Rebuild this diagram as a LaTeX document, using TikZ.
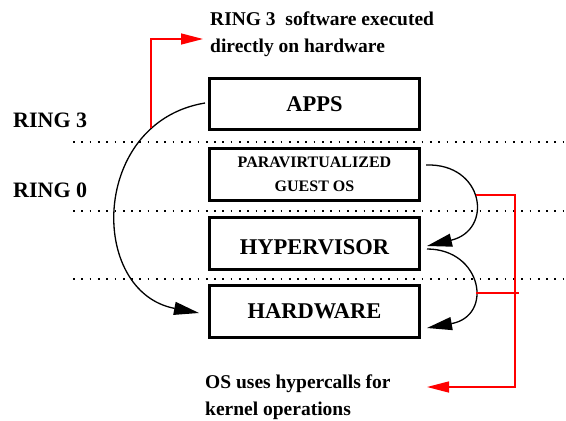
\documentclass[tikz,border=0pt]{standalone}
\usepackage{fontspec}
\setmainfont{Liberation Serif}
\usetikzlibrary{arrows.meta}
\begin{document}
\begin{tikzpicture}[x=1pt,y=-1pt,
  layer/.style={draw, line width=3pt, minimum width=210pt, inner sep=0pt},
  bigtext/.style={font=\bfseries\fontsize{22.5}{26}\selectfont},
  ringlabel/.style={anchor=base west, inner sep=0pt, font=\bfseries\fontsize{22}{26}\selectfont},
  notetext/.style={anchor=base west, inner sep=0pt, align=left, font=\bfseries\fontsize{19.5}{27}\selectfont},
  ringline/.style={line width=1.7pt, dash pattern=on 1.7pt off 6.6pt},
  flow/.style={line width=1.3pt, -{Triangle[length=25pt,width=13pt]}},
  note/.style={red, line width=1.4pt},
  noteflow/.style={note, -{Triangle[length=22pt,width=11pt]}}
]
\useasboundingbox (0,0) rectangle (566,421);

% privilege boundaries
\draw[ringline] (73,142) -- (566,142);
\draw[ringline] (73,211) -- (566,211);
\draw[ringline] (73,279) -- (566,279);

% ring labels
\node[ringlabel] (ring3) at (13,127) {RING 3};
\node[ringlabel] (ring0) at (13,197) {RING 0};

% software stack
\node[layer, bigtext, minimum height=51pt] (apps) at (314.5,104) {APPS};
\node[layer, minimum height=52pt, align=center,
      font=\bfseries\fontsize{16}{24}\selectfont] (guest) at (314.5,174.5) {PARAVIRTUALIZED\\GUEST OS};
\node[layer, bigtext, minimum height=52pt, text height=23pt, text depth=0pt] (hyp) at (314.5,243) {HYPERVISOR};
\node[layer, bigtext, minimum height=52pt] (hw) at (314.5,311.5) {HARDWARE};

% annotations (base anchor sits on the last line)
\node[notetext] (topnote) at (210,52) {RING 3\ \ software executed\\directly on hardware};
\node[notetext] (botnote) at (205,415) {OS uses hypercalls for\\kernel operations};

% apps run straight on the hardware
\coordinate (appsout) at (205,103);
\coordinate (hwin) at (199,313);
\draw[flow] (appsout) .. controls (90,122) and (88,292) .. (hwin);

% hypercall path: guest -> hypervisor -> hardware
\coordinate (guestout) at (426,165);
\coordinate (hypin) at (427,246);
\coordinate (hypout) at (427,249);
\coordinate (hwin2) at (427,328);
\draw[flow] (guestout) .. controls (484,163) and (494,230) .. (hypin);
\draw[flow] (hypout) .. controls (482,249) and (494,316) .. (hwin2);

% red callouts
\coordinate (c1) at (151,128);
\coordinate (c1end) at (203,39);
\draw[noteflow] (c1) |- (c1end);

\coordinate (c2) at (476,195);
\coordinate (c2turn) at (515,195);
\coordinate (c2end) at (427,387);
\draw[noteflow] (c2) -- (c2turn) |- (c2end);
\coordinate (c3) at (476,293);
\coordinate (c3end) at (519,293);
\draw[note] (c3) -- (c3end);
\end{tikzpicture}
\end{document}
